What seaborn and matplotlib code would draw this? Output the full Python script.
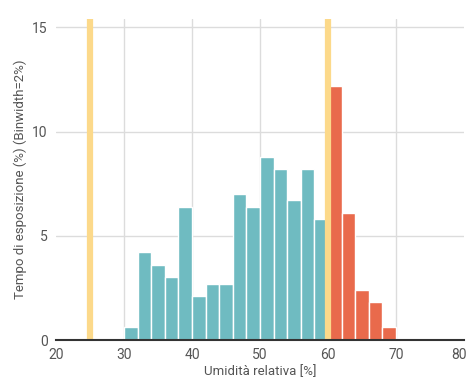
import numpy as np
import matplotlib
matplotlib.use('Agg')
import matplotlib.pyplot as plt
import matplotlib.transforms as mtransforms
import seaborn as sns

# dati (binwidth = 2%)
edges_low = [30, 32, 34, 36, 38, 40, 42, 44, 46, 48, 50, 52, 54, 56, 58, 60]
heights_low = [0.6, 4.2, 3.6, 3.0, 6.4, 2.1, 2.7, 2.7, 7.0, 6.4, 8.8, 8.2, 6.7, 8.2, 5.8]
edges_high = [60, 62, 64, 66, 68, 70]
heights_high = [12.2, 6.1, 2.4, 1.8, 0.6]
limits = [25, 60]
x_ticks = [20, 30, 40, 50, 60, 70, 80]
y_ticks = [0, 5, 10, 15]

sns.set_theme(style="white")
plt.rcParams['font.family'] = ['Roboto', 'DejaVu Sans']

fig = plt.figure(figsize=(4.68, 3.78), dpi=100)
ax = fig.add_axes([56 / 468, 38 / 378, 408 / 468, 321 / 378])

mid_low = np.array(edges_low[:-1]) + 1
mid_high = np.array(edges_high[:-1]) + 1
sns.histplot(x=mid_low, weights=heights_low, bins=edges_low, color='#6fbbc1',
             alpha=1, edgecolor='white', linewidth=1, ax=ax, zorder=2)
sns.histplot(x=mid_high, weights=heights_high, bins=edges_high, color='#e96a4c',
             alpha=1, edgecolor='white', linewidth=1, ax=ax, zorder=2)

for v in limits:
    ax.axvline(v, color='#fcd98a', linewidth=4.5, zorder=3)

ax.set_xlim(20, 80)
ax.set_ylim(0, 15.4)
ax.set_xticks(x_ticks)
ax.set_yticks(y_ticks)
ax.grid(True, color='#dcdcdc', linewidth=1, zorder=0)
ax.set_axisbelow(True)
# niente griglia verticale ai bordi (20 e 80)
xgl = ax.get_xgridlines()
xgl[0].set_visible(False)
xgl[-1].set_visible(False)
for s in ['top', 'right', 'left']:
    ax.spines[s].set_visible(False)
ax.spines['bottom'].set_color('#333333')
ax.spines['bottom'].set_linewidth(1.5)
ax.spines['bottom'].set_zorder(4)
ax.tick_params(axis='x', direction='in', length=3, width=1, color='#333333',
               labelsize=10, labelcolor='#555555', pad=6)
ax.tick_params(axis='y', length=0, labelsize=10, labelcolor='#555555', pad=6)

# sposta un po' a sinistra l'etichetta "80" perché non esca dal bordo
lab = ax.get_xticklabels()[-1]
lab.set_transform(lab.get_transform() +
                  mtransforms.ScaledTranslation(-5 / 100, 0, fig.dpi_scale_trans))

ax.set_xlabel('Umidità relativa [%]', fontsize=9.5, color='#555555', labelpad=2)
ax.set_ylabel('Tempo di esposizione (%) (Binwidth=2%)', fontsize=9.5,
              color='#555555', labelpad=4)

fig.savefig('out.png', dpi=100)
